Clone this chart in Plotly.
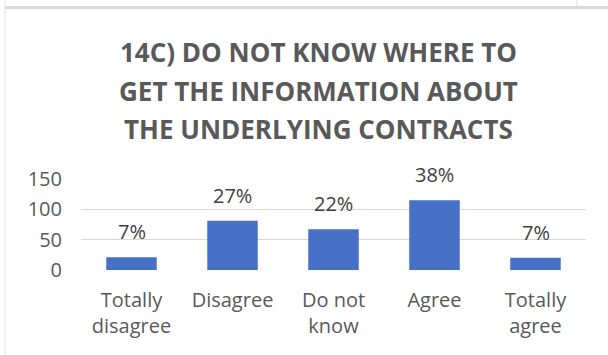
import plotly.graph_objects as go

# Survey responses (counts) for question 14C
categories = ["Totally<br>disagree", "Disagree", "Do not<br>know", "Agree", "Totally<br>agree"]
counts = [21, 81, 67, 115, 20]
y_ticks = [0, 50, 100, 150]
title_lines = [
    "14C) DO NOT KNOW WHERE TO",
    "GET THE INFORMATION ABOUT",
    "THE UNDERLYING CONTRACTS",
]

W, H = 608, 355
FONT = "Open Sans"
GREY = "#595959"

total = sum(counts)
shares = [round(100 * c / total) for c in counts]

fig = go.Figure()
fig.add_trace(go.Bar(
    x=categories,
    y=counts,
    marker=dict(color="#4671c6", line=dict(width=0)),
    width=0.5,
    hoverinfo="skip",
))

# percentage labels above each bar
for cat, c, s in zip(categories, counts, shares):
    fig.add_annotation(
        x=cat, y=c, xref="x", yref="y",
        text=f"{s}%", showarrow=False,
        yanchor="bottom", yshift=10,
        font=dict(family=FONT, size=20, color="#404040"),
    )

# three-line bold title
title_y = [52, 90.5, 128.5]
for line, ypx in zip(title_lines, title_y):
    fig.add_annotation(
        x=318 / W, y=1 - ypx / H, xref="paper", yref="paper",
        text=f"<b>{line}</b>", showarrow=False,
        xanchor="center", yanchor="middle",
        font=dict(family=FONT, size=26, color=GREY),
    )

# chart frame lines
fig.add_shape(type="line", xref="paper", yref="paper",
              x0=5 / W, x1=1, y0=1 - 7.5 / H, y1=1 - 7.5 / H,
              line=dict(color="#d9d9d9", width=3))
fig.add_shape(type="line", xref="paper", yref="paper",
              x0=5 / W, x1=5 / W, y0=0, y1=1,
              line=dict(color="#e3e3e3", width=1))
fig.add_shape(type="line", xref="paper", yref="paper",
              x0=577 / W, x1=577 / W, y0=1 - 6 / H, y1=1,
              line=dict(color="#d9d9d9", width=1))

fig.update_layout(
    width=W, height=H, autosize=False,
    margin=dict(l=0, r=0, t=0, b=0),
    paper_bgcolor="white", plot_bgcolor="white",
    showlegend=False,
    bargap=0.5,
    font=dict(family=FONT, color=GREY),
)
fig.update_xaxes(
    domain=[81 / W, 586 / W],
    showgrid=False, zeroline=False, showline=False,
    ticks="", tickfont=dict(family=FONT, size=20, color=GREY),
    ticklabelstandoff=16, automargin=False,
)
fig.update_yaxes(
    domain=[1 - 270 / H, 1 - 179 / H],
    range=[0, 150],
    tickvals=y_ticks,
    showgrid=True, gridcolor="#d9d9d9", gridwidth=1,
    zeroline=False, showline=False,
    ticks="", tickfont=dict(family=FONT, size=20, color=GREY),
    ticklabelstandoff=18, automargin=False,
)

fig.write_html("out.html")
